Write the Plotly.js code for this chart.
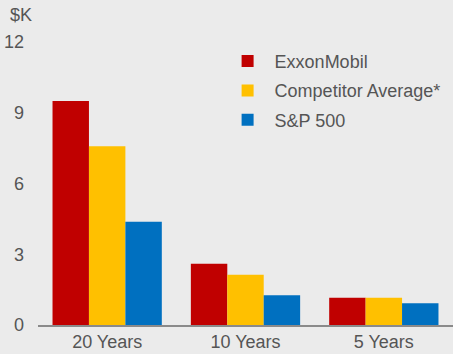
<!DOCTYPE html>
<html><head><meta charset="utf-8">
<script src="https://cdn.plot.ly/plotly-3.0.1.min.js"></script>
<style>html,body{margin:0;padding:0;background:#ebebeb;}</style>
</head><body>
<div id="chart" style="width:453px;height:354px;"></div>
<script>
const categories = ["20 Years", "10 Years", "5 Years"];
const exxonMobil = [9.5, 2.6, 1.16];
const competitorAverage = [7.58, 2.13, 1.16];
const sp500 = [4.38, 1.26, 0.92];
const yTicks = [0, 3, 6, 9, 12];
const seriesNames = ["ExxonMobil", "Competitor Average*", "S&P 500"];
const colors = ["#c00000", "#ffc000", "#0070c0"];

const font = {family: "Liberation Sans, Arial, sans-serif", size: 18, color: "#555555"};
const data = [exxonMobil, competitorAverage, sp500].map((v, i) => ({
  type: "bar", x: categories, y: v, name: seriesNames[i], legendgroup: "g" + i,
  marker: {color: colors[i], line: {width: 0}}
}));

const layout = {
  width: 453, height: 354,
  margin: {l: 38, r: 0, t: 42, b: 29, pad: 0},
  paper_bgcolor: "#ebebeb", plot_bgcolor: "#ebebeb",
  font: font,
  barmode: "group", bargap: 0.21, bargroupgap: 0,
  showlegend: true,
  legend: {x: 0.44, y: 0.997, xanchor: "left", yanchor: "top", itemwidth: 44,
           bgcolor: "rgba(0,0,0,0)", font: {family: font.family, size: 18, color: "#555555"},
           tracegroupgap: 3, traceorder: "grouped"},
  xaxis: {type: "category", range: [-0.5, 2.5], showline: true, linecolor: "#8a8a8a", linewidth: 1.5,
          ticks: "", showgrid: false, zeroline: false, tickfont: font, fixedrange: true},
  yaxis: {range: [0, 12], tickvals: yTicks, ticktext: yTicks.map(String), showgrid: false,
          zeroline: false, showline: false, ticks: "", ticklabelstandoff: 13, tickfont: font},
  annotations: [{text: "$K", xref: "paper", yref: "paper", x: -0.072, y: 1.095, xanchor: "left", yanchor: "middle",
                 showarrow: false, font: font}]
};
Plotly.newPlot("chart", data, layout, {displayModeBar: false, staticPlot: true});
</script>
</body></html>
